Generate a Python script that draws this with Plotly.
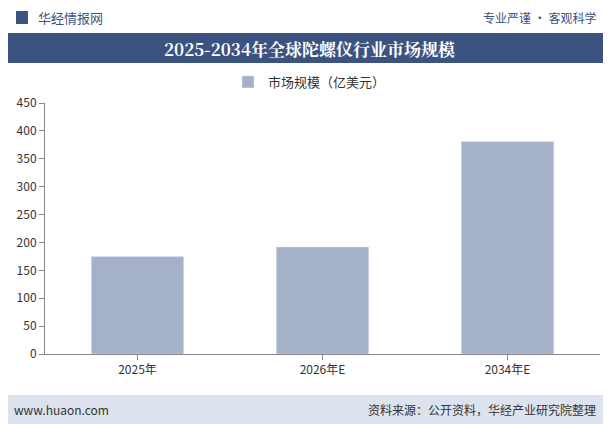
import plotly.graph_objects as go

categories = ["2025年", "2026年E", "2034年E"]
values = [175, 192, 381]
series_name = "市场规模（亿美元）"
title = "2025-2034年全球陀螺仪行业市场规模"
yticks = [0, 50, 100, 150, 200, 250, 300, 350, 400, 450]

W, H, OFF = 603, 416, 8
def X(px): return (px - OFF) / W
def Y(py): return 1 - (py - OFF) / H

font = "Noto Sans CJK SC"
fig = go.Figure(go.Bar(x=categories, y=values, name=series_name, marker_color="#a5b0c9", width=0.5))

fig.update_layout(
    width=W, height=H, margin=dict(l=0, r=0, t=0, b=0, pad=0),
    paper_bgcolor="white", plot_bgcolor="white",
    font=dict(family=font, size=12, color="#333"),
    showlegend=True,
    legend=dict(orientation="h", x=0.5, xanchor="center", y=Y(82), yanchor="middle",
                font=dict(size=13, color="#333")),
    xaxis=dict(domain=[X(45), X(600)], showline=True, linecolor="#888", ticks="outside",
               tickcolor="#888", tickfont=dict(size=12), automargin=False),
    yaxis=dict(domain=[Y(354), Y(103)], range=[0, 450], tickvals=yticks, showgrid=False,
               showline=True, linecolor="#888", ticks="outside", tickcolor="#888",
               tickfont=dict(size=12), automargin=False),
    shapes=[
        dict(type="rect", xref="paper", yref="paper", x0=0, x1=1, y0=Y(63), y1=Y(33),
             fillcolor="#3c5380", line_width=0),
        dict(type="rect", xref="paper", yref="paper", x0=0, x1=1, y0=0, y1=Y(395),
             fillcolor="#dde3ee", line_width=0),
        dict(type="rect", xref="paper", yref="paper", x0=X(16), x1=X(28), y0=Y(24), y1=Y(11),
             fillcolor="#3c5380", line_width=0),
    ],
    annotations=[
        dict(text="<b>" + title + "</b>", xref="paper", yref="paper", x=0.5, y=Y(48), yanchor="middle",
             showarrow=False, font=dict(size=17, color="white", family="Noto Serif CJK SC, " + font)),
        dict(text="华经情报网", xref="paper", yref="paper", x=X(36), y=Y(17), xanchor="left", yanchor="middle",
             showarrow=False, font=dict(size=13, color="#3c5380")),
        dict(text="专业严谨 • 客观科学", xref="paper", yref="paper", x=X(598), y=Y(17), xanchor="right",
             yanchor="middle", showarrow=False, font=dict(size=12, color="#3c5380")),
        dict(text="www.huaon.com", xref="paper", yref="paper", x=X(12), y=Y(409), xanchor="left",
             yanchor="middle", showarrow=False, font=dict(size=12, color="#333")),
        dict(text="资料来源：公开资料，华经产业研究院整理", xref="paper", yref="paper", x=X(598), y=Y(409),
             xanchor="right", yanchor="middle", showarrow=False, font=dict(size=12, color="#333")),
    ],
)
fig.write_html("out.html")
